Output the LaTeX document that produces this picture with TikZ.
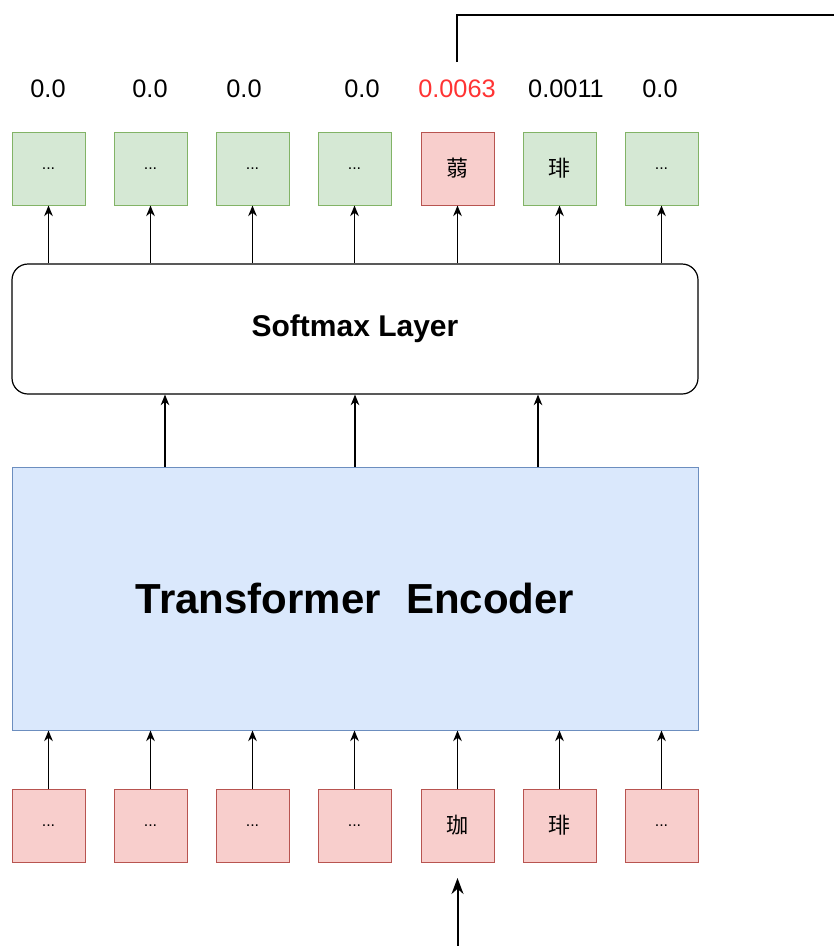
\documentclass[tikz,border=0pt]{standalone}
\usepackage{fontspec}
\setmainfont{Liberation Sans}
\newfontfamily\cjk{Noto Sans CJK SC}
\usetikzlibrary{arrows.meta}
\definecolor{gfill}{HTML}{D5E8D4}
\definecolor{gdraw}{HTML}{82B366}
\definecolor{rfill}{HTML}{F8CECC}
\definecolor{rdraw}{HTML}{B85450}
\definecolor{bfill}{HTML}{DAE8FC}
\definecolor{bdraw}{HTML}{6C8EBF}
\definecolor{redtxt}{HTML}{FF3333}
\begin{document}
\begin{tikzpicture}[x=0.75pt,y=-0.75pt,
  tok/.style={draw, line width=0.75pt, minimum width=54.75pt, minimum height=54.75pt, inner sep=0pt, font=\fontsize{12}{12}\selectfont},
  gtok/.style={tok, fill=gfill, draw=gdraw},
  rtok/.style={tok, fill=rfill, draw=rdraw},
  cj/.style={font=\cjk\fontsize{16.5}{16.5}\selectfont},
  val/.style={font=\fontsize{19}{19}\selectfont, inner sep=0pt},
  arr/.style={-{Stealth[length=8pt,width=6.5pt]}, line width=0.9pt},
]
\useasboundingbox (0,0) rectangle (834,946);
% top tokens
\node[gtok] (t1) at (48.5,168.5) {...};
\node[gtok] (t2) at (150.5,168.5) {...};
\node[gtok] (t3) at (252.5,168.5) {...};
\node[gtok] (t4) at (354.5,168.5) {...};
\node[rtok, cj] (t5) at (457.5,168.5) {蒻};
\node[gtok, cj] (t6) at (559.5,168.5) {琲};
\node[gtok] (t7) at (661.5,168.5) {...};
% values
\node[val] (v1) at (48,89) {0.0};
\node[val] (v2) at (150,89) {0.0};
\node[val] (v3) at (244,89) {0.0};
\node[val] (v4) at (362,89) {0.0};
\node[val, text=redtxt] (v5) at (457,89) {0.0063};
\node[val] (v6) at (566,89) {0.0011};
\node[val] (v7) at (660,89) {0.0};
% top line
\coordinate (lt) at (457,62);
\coordinate (lc) at (457,15);
\coordinate (le) at (834,15);
\draw[line width=1.5pt] (lt) -- (lc) -- (le);
% softmax
\node[draw, line width=0.9pt, rounded corners=12pt, minimum width=514.5pt, minimum height=97.5pt, font=\bfseries\fontsize{22.5}{22.5}\selectfont] (sm) at (355,329) {Softmax Layer};
% encoder
\node[draw=bdraw, fill=bfill, line width=0.75pt, minimum width=514.5pt, minimum height=197.25pt, font=\bfseries\fontsize{31.5}{31.5}\selectfont] (enc) at (355,598.5) {Transformer\hspace{0.6em}Encoder};
% bottom tokens
\node[rtok] (b1) at (48.5,825.5) {...};
\node[rtok] (b2) at (150.5,825.5) {...};
\node[rtok] (b3) at (252.5,825.5) {...};
\node[rtok] (b4) at (354.5,825.5) {...};
\node[rtok, cj] (b5) at (457.5,825.5) {珈};
\node[rtok, cj] (b6) at (559.5,825.5) {琲};
\node[rtok] (b7) at (661.5,825.5) {...};
% arrows softmax -> top tokens
\foreach \i in {1,...,7}{
  \draw[arr] (sm.north -| t\i.south) -- (t\i.south);
}
% arrows encoder -> softmax
\foreach \x in {165,355,538}{
  \draw[arr] (enc.north -| \x,0) -- (sm.south -| \x,0);
}
% arrows bottom tokens -> encoder
\foreach \i in {1,...,7}{
  \draw[arr] (b\i.north) -- (enc.south -| b\i.north);
}
% input arrow
\coordinate (in) at (457.5,946);
\draw[-{Stealth[length=12pt,width=9pt]}, line width=1.5pt] (in) -- (b5.south |- 0,878);
\end{tikzpicture}
\end{document}
